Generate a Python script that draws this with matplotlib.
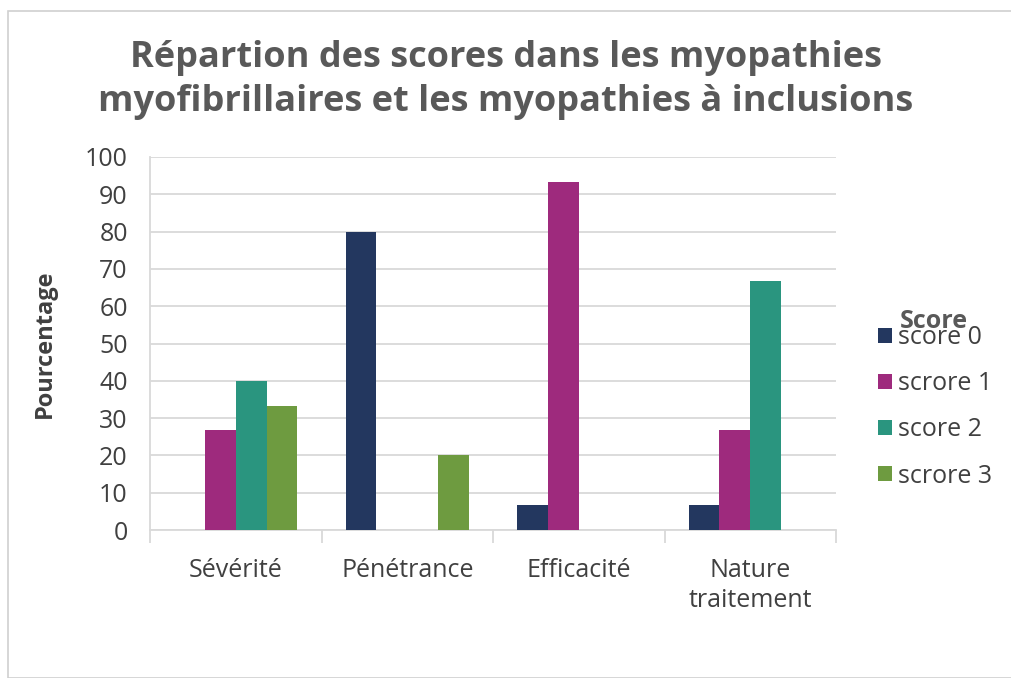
import matplotlib.pyplot as plt
import numpy as np
from matplotlib.patches import Rectangle

categories = ['Sévérité', 'Pénétrance', 'Efficacité', 'Nature\ntraitement']
score_0 = [0, 80, 6.7, 6.7]
score_1 = [26.7, 0, 93.3, 26.7]
score_2 = [40, 0, 0, 66.7]
score_3 = [33.3, 20, 0, 0]
series_names = ['score 0', 'scrore 1', 'score 2', 'scrore 3']
colors = ['#23375F', '#9E2A7D', '#2A957F', '#6E9B40']

plt.rcParams['font.family'] = ['Open Sans', 'DejaVu Sans']
txt = '#404040'

fig = plt.figure(figsize=(10.12, 6.78), dpi=100)
fig.patches.append(Rectangle((8 / 1012, 0), 1.1, 1 - 11 / 678, transform=fig.transFigure,
                             fill=False, edgecolor='#D0D0D0', linewidth=1.2))
ax = fig.add_axes([150 / 1012, 1 - 530 / 678, 686 / 1012, 373 / 678])

x = np.arange(len(categories))
w = 0.18
for i, vals in enumerate([score_0, score_1, score_2, score_3]):
    ax.bar(x + (i - 1.5) * w, vals, w, color=colors[i], label=series_names[i], zorder=3)

ax.set_xlim(-0.5, 3.5)
ax.set_ylim(0, 100)
ax.set_yticks(range(0, 101, 10))
ax.yaxis.grid(True, color='#D9D9D9', linewidth=1.3, zorder=0)
for s in ['top', 'right']:
    ax.spines[s].set_visible(False)
ax.spines['left'].set_color('#D9D9D9')
ax.spines['bottom'].set_color('#D9D9D9')
ax.spines['left'].set_linewidth(1.3)
ax.spines['bottom'].set_linewidth(1.3)
ax.tick_params(axis='y', length=0, labelsize=18, labelcolor=txt, pad=16)
ax.set_xticks(x)
ax.set_xticklabels(categories, fontsize=18, color=txt, linespacing=1.3)
ax.tick_params(axis='x', length=0, pad=20)
ax.set_xticks(np.arange(-0.5, 4, 1), minor=True)
ax.tick_params(axis='x', which='minor', length=9, color='#D9D9D9', width=1.3)

ax.set_ylabel('Pourcentage', fontsize=17, fontweight='bold', color=txt, labelpad=20)

fig.text(0.5, 1 - 80 / 678, 'Répartion des scores dans les myopathies\nmyofibrillaires et les myopathies à inclusions',
         ha='center', va='center', fontsize=26, fontweight='bold', color='#595959', linespacing=1.3)

fig.legend(loc='upper left', bbox_to_anchor=(868 / 1012, 1 - 315 / 678), frameon=False,
           fontsize=18, labelcolor=txt, handlelength=0.55, handleheight=0.55,
           handletextpad=0.25, labelspacing=0.85, borderaxespad=0)
fig.text(900 / 1012, 1 - 321 / 678, 'Score', fontsize=18, fontweight='bold', color='#595959',
         ha='left', va='center')

fig.savefig('out.png', dpi=100)
